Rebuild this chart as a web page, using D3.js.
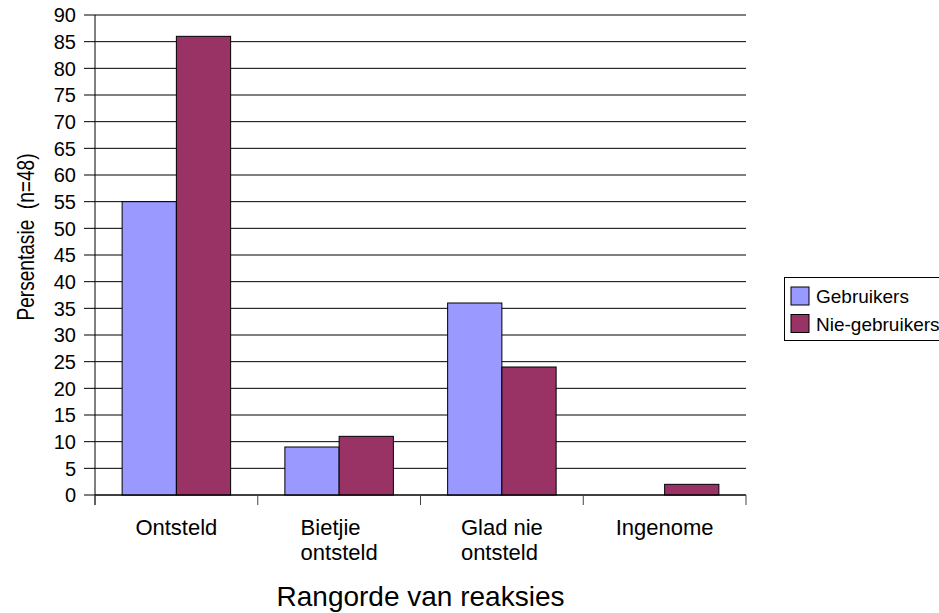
<!DOCTYPE html>
<html>
<head>
<meta charset="utf-8">
<script src="https://cdn.jsdelivr.net/npm/d3@7"></script>
<style>
  body { margin: 0; background: #fff; }
  svg { display: block; font-family: Arial, "Liberation Sans", sans-serif; }
</style>
</head>
<body>
<svg id="chart" width="939" height="613"></svg>
<script>
// data
var categories = ["Ontsteld", "Bietjie ontsteld", "Glad nie ontsteld", "Ingenome"];
var categoryLines = [["Ontsteld"], ["Bietjie", "ontsteld"], ["Glad nie", "ontsteld"], ["Ingenome"]];
var seriesNames = ["Gebruikers", "Nie-gebruikers"];
var gebruikers = [55, 9, 36, 0];
var nieGebruikers = [86, 11, 24, 2];
var yTicks = d3.range(0, 91, 5);
var colors = ["#9999ff", "#993366"];

var seriesValues = [gebruikers, nieGebruikers];

var svg = d3.select("#chart");
var plotLeft = 95, plotRight = 746, plotTop = 15, plotBottom = 495;

var x = d3.scaleBand().domain(categories).range([plotLeft, plotRight]).padding(0);
var bw = x.bandwidth();
var x1 = d3.scaleBand().domain(seriesNames).range([bw / 6, bw * 5 / 6]).padding(0);
var y = d3.scaleLinear().domain([0, 90]).range([plotBottom, plotTop]);

// gridlines + y ticks
svg.append("g")
    .selectAll("line")
    .data(yTicks).enter()
    .append("line")
    .attr("x1", plotLeft - 11)
    .attr("x2", plotRight)
    .attr("y1", function (d) { return y(d); })
    .attr("y2", function (d) { return y(d); })
    .attr("stroke", "#000")
    .attr("stroke-width", 1);

svg.append("g")
    .selectAll("text")
    .data(yTicks).enter()
    .append("text")
    .attr("x", plotLeft - 19)
    .attr("y", function (d) { return y(d); })
    .attr("dy", "0.36em")
    .attr("text-anchor", "end")
    .attr("font-size", 20)
    .attr("fill", "#000")
    .text(function (d) { return d; });

// bars
var rows = [];
categories.forEach(function (c, i) {
    seriesNames.forEach(function (s, j) {
        rows.push({ cat: c, series: s, value: seriesValues[j][i], color: colors[j] });
    });
});

svg.append("g")
    .selectAll("rect")
    .data(rows.filter(function (d) { return d.value > 0; })).enter()
    .append("rect")
    .attr("x", function (d) { return x(d.cat) + x1(d.series); })
    .attr("y", function (d) { return y(d.value); })
    .attr("width", x1.bandwidth())
    .attr("height", function (d) { return y(0) - y(d.value); })
    .attr("fill", function (d) { return d.color; })
    .attr("stroke", "#000")
    .attr("stroke-width", 1);

// axes lines
svg.append("line")
    .attr("x1", plotLeft).attr("x2", plotLeft)
    .attr("y1", plotTop).attr("y2", plotBottom + 10)
    .attr("stroke", "#000");

svg.append("line")
    .attr("x1", plotLeft).attr("x2", plotRight)
    .attr("y1", plotBottom).attr("y2", plotBottom)
    .attr("stroke", "#000");

var catBounds = categories.map(function (c) { return x(c); }).concat([plotRight]);
svg.append("g")
    .selectAll("line")
    .data(catBounds).enter()
    .append("line")
    .attr("x1", function (d) { return d; })
    .attr("x2", function (d) { return d; })
    .attr("y1", plotBottom)
    .attr("y2", plotBottom + 10)
    .attr("stroke", "#444");

// category labels (left aligned lines, block centred in band)
categories.forEach(function (c, i) {
    var g = svg.append("g");
    var t = g.append("text")
        .attr("font-size", 22)
        .attr("fill", "#000");
    categoryLines[i].forEach(function (line, k) {
        t.append("tspan")
            .attr("x", 0)
            .attr("y", 535 + k * 25)
            .text(line);
    });
    var w = t.node().getBBox().width;
    g.attr("transform", "translate(" + (x(c) + bw / 2 - w / 2) + ",0)");
});

// axis titles
svg.append("text")
    .attr("x", (plotLeft + plotRight) / 2)
    .attr("y", 605.5)
    .attr("text-anchor", "middle")
    .attr("font-size", 28)
    .attr("fill", "#000")
    .text("Rangorde van reaksies");

svg.append("text")
    .attr("transform", "translate(34,237) rotate(-90) scale(0.83,1)")
    .attr("text-anchor", "middle")
    .attr("font-size", 23)
    .attr("fill", "#000")
    .style("white-space", "pre")
    .text("Persentasie  (n=48)");

// legend
var legend = svg.append("g");
legend.append("rect")
    .attr("x", 784.5).attr("y", 277.5)
    .attr("width", 170).attr("height", 63)
    .attr("fill", "#fff")
    .attr("stroke", "#000");

var items = legend.selectAll("g.item")
    .data(seriesNames).enter()
    .append("g")
    .attr("class", "item")
    .attr("transform", function (d, i) { return "translate(791," + (287 + i * 27.5) + ")"; });

items.append("rect")
    .attr("width", 18).attr("height", 18)
    .attr("fill", function (d, i) { return colors[i]; })
    .attr("stroke", "#000");

items.append("text")
    .attr("x", 25)
    .attr("y", 16)
    .attr("font-size", 19)
    .attr("fill", "#000")
    .text(function (d) { return d; });
</script>
</body>
</html>
